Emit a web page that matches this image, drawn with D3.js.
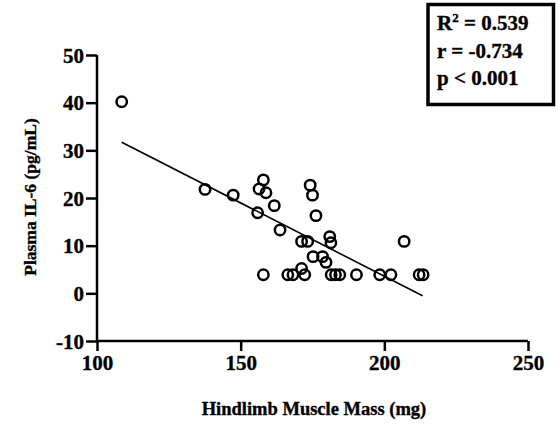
<!DOCTYPE html>
<html lang="en">
<head>
  <meta charset="UTF-8">
  <title>IL-6 vs Hindlimb Muscle Mass</title>
  <script src="https://d3js.org/d3.v7.min.js"></script>
  <style>
    body { margin: 0; background: #fff; }
    text { font-family: "Liberation Serif", "Times New Roman", serif; font-weight: bold; fill: #000; stroke: #000; stroke-width: 0.35px; }
  </style>
</head>
<body>
  <div id="chart"></div>
  <script>
    // values
    const muscleMass = [108.6, 137.6, 147.4, 155.9, 156.4, 157.9, 158.8, 157.9, 161.7, 163.7,
      166.4, 168.2, 171.2, 171.2, 172.3, 173.3, 174.2, 175.0, 176.2, 175.2,
      178.5, 179.7, 181.0, 181.4, 181.5, 183.0, 184.5, 190.3, 198.4, 202.3,
      206.9, 212.1, 213.5];
    const il6 = [40.2, 21.8, 20.6, 16.9, 21.9, 23.8, 21.1, 3.9, 18.4, 13.3,
      3.9, 3.9, 10.9, 5.2, 3.9, 10.9, 22.7, 20.6, 16.3, 7.7,
      7.7, 6.5, 11.9, 10.6, 3.9, 3.9, 3.9, 3.9, 3.9, 3.9,
      10.9, 3.9, 3.9];
    const fitX = [108.6, 213.3];
    const fitY = [31.7, -0.5];
    const xTicks = [100, 150, 200, 250];
    const yTicks = [-10, 0, 10, 20, 30, 40, 50];
    const stats = ["r = -0.734", "p < 0.001"];

    const width = 560, height = 424;
    const svg = d3.select("#chart").append("svg")
      .attr("width", width).attr("height", height);

    const x = d3.scaleLinear().domain([100, 250]).range([97, 528]);
    const y = d3.scaleLinear().domain([-10, 50]).range([341, 55]);

    const xAxis = svg.append("g")
      .attr("transform", `translate(0,${y(-10)})`)
      .call(d3.axisBottom(x).tickValues(xTicks).tickFormat(d => String(d)).tickSize(10).tickPadding(4));
    const yAxis = svg.append("g")
      .attr("transform", `translate(${x(100)},0)`)
      .call(d3.axisLeft(y).tickValues(yTicks).tickFormat(d => String(d)).tickSize(11).tickPadding(2));

    [xAxis, yAxis].forEach(g => {
      g.attr("font-size", null).attr("font-family", null);
      g.select(".domain").attr("stroke", "#000").attr("stroke-width", 2.5);
      g.selectAll(".tick line").attr("stroke", "#000").attr("stroke-width", 2.5);
      g.selectAll(".tick text")
        .style("font-size", "21px")
        .attr("fill", "#000");
    });
    xAxis.select(".domain").attr("d", `M${x(100)},0H${x(250)}`);
    yAxis.select(".domain").attr("d", `M0,${y(-10)}V${y(50)}`);
    yAxis.selectAll(".tick text").attr("dy", "0.34em");

    // regression line
    svg.append("line")
      .attr("x1", x(fitX[0])).attr("y1", y(fitY[0]))
      .attr("x2", x(fitX[1])).attr("y2", y(fitY[1]))
      .attr("stroke", "#000").attr("stroke-width", 1.6);

    svg.append("g").selectAll("circle")
      .data(muscleMass)
      .enter().append("circle")
      .attr("cx", d => x(d))
      .attr("cy", (d, i) => y(il6[i]))
      .attr("r", 5.2)
      .attr("fill", "none")
      .attr("stroke", "#000")
      .attr("stroke-width", 2.5);

    // axis titles
    svg.append("text")
      .attr("x", 314).attr("y", 415)
      .attr("text-anchor", "middle")
      .style("font-size", "18.5px")
      .text("Hindlimb Muscle Mass (mg)");
    svg.append("text")
      .attr("transform", "translate(36,197) rotate(-90)")
      .attr("text-anchor", "middle")
      .style("font-size", "17.5px")
      .text("Plasma IL-6 (pg/mL)");

    // stats box
    svg.append("rect")
      .attr("x", 428).attr("y", 4.5).attr("width", 125.5).attr("height", 100)
      .attr("fill", "#fff").attr("stroke", "#000").attr("stroke-width", 3.5);
    const r2 = svg.append("text").attr("x", 437).attr("y", 30).style("font-size", "21px");
    r2.append("tspan").text("R");
    r2.append("tspan").attr("dy", -8).style("font-size", "13px").text("2");
    r2.append("tspan").attr("dy", 8).text(" = 0.539");
    stats.forEach((s, i) => {
      svg.append("text").attr("x", 437).attr("y", 58 + i * 27)
        .style("font-size", "21px").text(s);
    });
  </script>
</body>
</html>
